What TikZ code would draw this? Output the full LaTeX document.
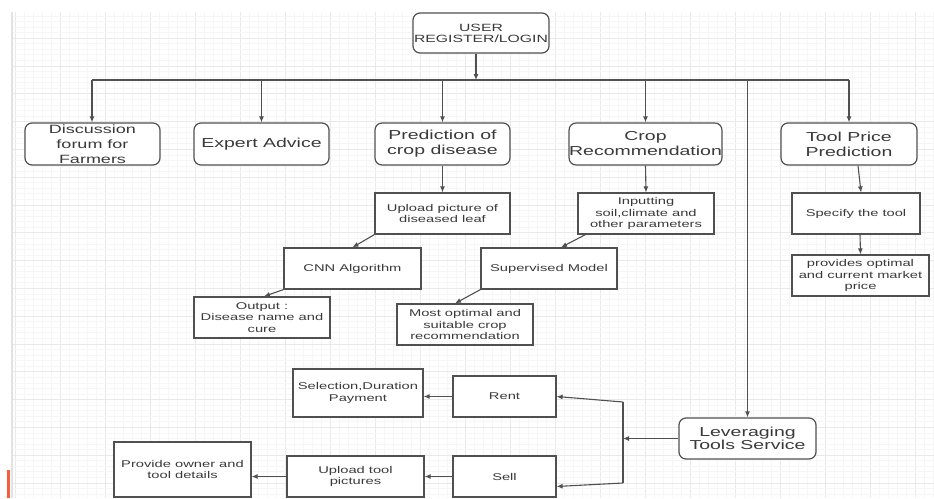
\documentclass[tikz,border=0pt]{standalone}
\usepackage{fontspec}
\setmainfont{Liberation Sans}[FakeStretch=1.5]
\usetikzlibrary{arrows.meta}
\definecolor{ink}{HTML}{3A3A3A}
\definecolor{edge}{HTML}{505050}
\definecolor{redmark}{HTML}{F2603F}
\tikzset{
  rbox/.style={draw=edge, line width=1.2pt, rounded corners=7pt, fill=white, text=ink,
    align=center, inner sep=0pt, minimum width=#1, minimum height=42pt},
  rbox/.default=136pt,
  sbox/.style={draw=edge, line width=1.2pt, fill=white, text=ink,
    align=center, inner sep=0pt, minimum width=#1, minimum height=41pt},
  sbox/.default=136pt,
  bigtxt/.style={font=\fontsize{13}{15}\selectfont},
  smalltxt/.style={font=\fontsize{9.8}{11.5}\selectfont},
  conn/.style={draw=edge, line width=1.1pt},
  arr/.style={conn, -{Latex[length=6pt,width=5pt]}},
}
\begin{document}
\begin{tikzpicture}[x=1pt,y=-1pt]
\useasboundingbox (0,0) rectangle (934,498);
\fill[white] (0,0) rectangle (934,498);
% grid
\foreach \i in {0,...,102}{
  \pgfmathtruncatemacro{\m}{mod(\i,5)}
  \ifnum\m=0
    \draw[gray!17, line width=0.9pt] (15+9*\i,12) -- (15+9*\i,498);
  \else
    \draw[gray!7, line width=0.8pt] (15+9*\i,12) -- (15+9*\i,498);
  \fi
}
\foreach \j in {1,...,87}{
  \pgfmathtruncatemacro{\m}{mod(\j,5)}
  \ifnum\m=0
    \draw[gray!17, line width=0.9pt] (12,10.4+5.56*\j) -- (934,10.4+5.56*\j);
  \else
    \draw[gray!7, line width=0.8pt] (12,10.4+5.56*\j) -- (934,10.4+5.56*\j);
  \fi
}
\draw[gray!22, line width=2pt] (12,12) -- (12,498);
\draw[redmark, line width=2.5pt] (8.5,470) -- (8.5,498);

% top
\node[rbox, minimum height=40pt, font=\fontsize{10.5}{11}\selectfont] (user) at (481,33) {USER\\REGISTER/LOGIN};
\coordinate (bus) at (476,80);
\coordinate (busL) at (92,80);
\coordinate (busR) at (849,80);

% row 1
\node[rbox=135pt, font=\fontsize{12}{15}\selectfont] (disc) at (92.5,144) {Discussion\\forum for\\Farmers};
\node[rbox=135pt, bigtxt] (expert) at (261.5,144) {Expert Advice};
\node[rbox=135pt, bigtxt] (pred) at (442.5,144) {Prediction of\\crop disease};
\node[rbox=137pt, bigtxt] (crop) at (645.5,144) {Crop\\Recommendation};
\node[rbox=136pt, bigtxt] (tool) at (849,144) {Tool Price\\Prediction};

% row 2
\node[sbox=135pt, smalltxt] (upl) at (442.5,213.5) {Upload picture of\\diseased leaf};
\node[sbox=136pt, smalltxt] (inp) at (646,213.5) {Inputting\\soil,climate and\\other parameters};
\node[sbox=128pt, smalltxt] (spec) at (856,213.5) {Specify the tool};

% row 3
\node[sbox=137pt, smalltxt] (cnn) at (352.5,268.5) {CNN Algorithm};
\node[sbox=136pt, smalltxt] (sup) at (549,268.5) {Supervised Model};
\node[sbox=137pt, smalltxt] (prov) at (860.5,275.5) {provides optimal\\and current market\\price};
\node[sbox=136pt, smalltxt] (out) at (262,317.5) {Output :\\Disease name and\\cure};
\node[sbox=136pt, smalltxt] (opt) at (465,324.5) {Most optimal and\\suitable crop\\recommendation};

% leveraging
\node[rbox=137pt, minimum height=41pt, font=\fontsize{13}{13.5}\selectfont] (lev) at (747.5,438.5) {Leveraging\\Tools Service};
\node[sbox=103pt, smalltxt] (rent) at (504.5,396.5) {Rent};
\node[sbox=103pt, smalltxt] (sell) at (504.5,476.5) {Sell};
\node[sbox=130pt, minimum height=48pt, smalltxt] (selc) at (358,393) {Selection,Duration\\Payment};
\node[sbox=137pt, smalltxt] (utp) at (355.5,476.5) {Upload tool\\pictures};
\node[sbox=137pt, minimum height=55pt, smalltxt] (own) at (182.5,469.5) {Provide owner and\\tool details};
\coordinate (barT) at (623,402);
\coordinate (barM) at (623,438.5);
\coordinate (barB) at (623,483);

% connectors
\draw[arr] (user.south -| bus) -- (bus);
\draw[conn] (busL) -- (busR);
\draw[arr] (busL) -- (disc.north -| busL);
\draw[arr] (expert.north |- bus) -- (expert.north);
\draw[arr] (pred.north |- bus) -- (pred.north);
\draw[arr] (crop.north |- bus) -- (crop.north);
\draw[arr] (busR) -- (tool.north -| busR);
\draw[arr] (lev.north |- bus) -- (lev.north);

\draw[arr] (pred.south) -- (upl.north);
\draw[arr] (crop.south) -- (inp.north);
\draw[arr] ([xshift=9pt]tool.south) -- ([xshift=5pt]spec.north);
\draw[arr] ([xshift=4pt]spec.south) -- (prov.north);

\draw[arr] (upl.south west) -- (cnn.north);
\draw[arr] (cnn.south west) -- ([xshift=2pt]out.north);
\draw[arr] ([xshift=8pt]inp.south west) -- ([xshift=12pt]sup.north);
\draw[arr] (sup.south west) -- ([xshift=-10pt]opt.north);

\draw[arr] (lev.west) -- (barM);
\draw[draw=edge, line width=1.9pt] (barT) -- (barB);
\draw[arr] (barT) -- (rent.east);
\draw[arr] (barB) -- ([yshift=-10pt]sell.east);
\draw[arr] (rent.west) -- (rent.west -| selc.east);
\draw[arr] (sell.west) -- (utp.east);
\draw[arr] (utp.west) -- (utp.west -| own.east);
\end{tikzpicture}
\end{document}
